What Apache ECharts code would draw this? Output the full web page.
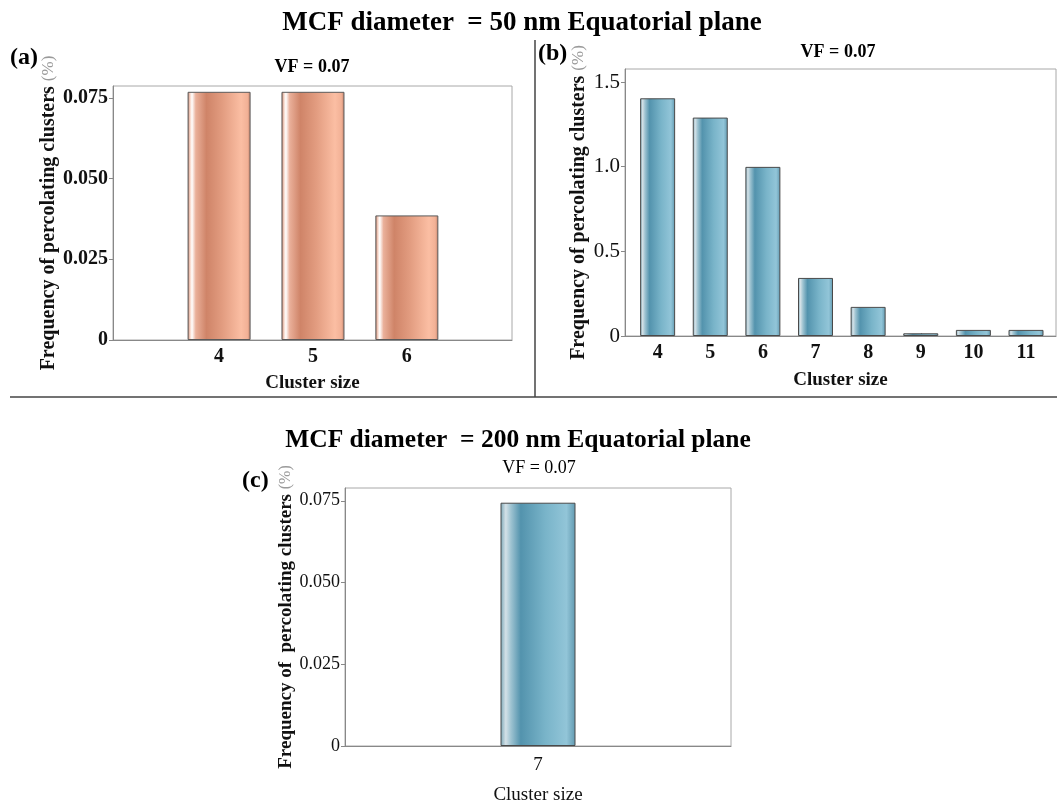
<!DOCTYPE html>
<html>
<head>
<meta charset="utf-8">
<script src="https://cdn.jsdelivr.net/npm/echarts@6/dist/echarts.min.js"></script>
<style>
  html, body { margin: 0; padding: 0; background: #fff; }
  #chart { width: 1057px; height: 806px; }
</style>
</head>
<body>
<div id="chart"></div>
<script>
// ---- data ----
const sizesA = [4, 5, 6];
const freqA = [0.0769, 0.0769, 0.0386];
const sizesB = [4, 5, 6, 7, 8, 9, 10, 11];
const freqB = [1.404, 1.290, 0.999, 0.343, 0.172, 0.016, 0.036, 0.036];
const sizesC = [7];
const freqC = [0.0744];
const yTicksA = [0, 0.025, 0.05, 0.075];
const yTicksB = [0, 0.5, 1.0, 1.5];
const yTicksC = [0, 0.025, 0.05, 0.075];
const titleTop = 'MCF diameter  = 50 nm Equatorial plane';
const titleBottom = 'MCF diameter  = 200 nm Equatorial plane';
const vfLabel = 'VF = 0.07';
const xName = 'Cluster size';
const yNameMain = 'Frequency of percolating clusters ';
const yNameMainC = 'Frequency of  percolating clusters ';
const yNameUnit = '(%)';

const SERIF = '"Liberation Serif", "DejaVu Serif", serif';

const copper = new echarts.graphic.LinearGradient(0, 0, 1, 0, [
  { offset: 0, color: '#c07860' },
  { offset: 0.04, color: '#f7d6c8' },
  { offset: 0.07, color: '#ffffff' },
  { offset: 0.13, color: '#eab09a' },
  { offset: 0.3, color: '#cf8468' },
  { offset: 0.55, color: '#e29c80' },
  { offset: 0.85, color: '#fbbea3' },
  { offset: 0.95, color: '#f2b196' },
  { offset: 1, color: '#c4846c' }
]);
const steel = new echarts.graphic.LinearGradient(0, 0, 1, 0, [
  { offset: 0, color: '#7aa6b6' },
  { offset: 0.07, color: '#d4e1e7' },
  { offset: 0.14, color: '#9ec3d1' },
  { offset: 0.27, color: '#5393ad' },
  { offset: 0.6, color: '#79b4c9' },
  { offset: 0.88, color: '#92c5d8' },
  { offset: 1, color: '#6199b0' }
]);

function pairs(xs, ys) { return xs.map((x, i) => [x, ys[i]]); }

function yAxisCfg(gi, min, max, ticks, fmt, bold, gap, size, nameText, nameSize) {
  return {
    type: 'value', gridIndex: gi, min: min, max: max,
    name: '{m|' + nameText + '}{u|' + yNameUnit + '}',
    nameLocation: 'middle', nameGap: gap,
    nameTextStyle: {
      rich: {
        m: { fontFamily: SERIF, fontWeight: 'bold', fontSize: nameSize, color: '#111' },
        u: { fontFamily: SERIF, fontWeight: 'normal', fontSize: nameSize - 3, color: '#9a9a9a' }
      }
    },
    axisLine: { show: true, lineStyle: { color: '#888', width: 1 } },
    axisTick: { show: true, length: 4, lineStyle: { color: '#888' }, customValues: ticks },
    axisLabel: {
      customValues: ticks, formatter: fmt, margin: 5,
      fontFamily: SERIF, fontSize: size, fontWeight: bold ? 'bold' : 'normal', color: '#111'
    },
    splitLine: { show: false }
  };
}

function xAxisCfg(gi, min, max, ticks, bold, gap, size, margin) {
  return {
    type: 'value', gridIndex: gi, min: min, max: max,
    name: xName, nameLocation: 'middle', nameGap: gap,
    nameTextStyle: { fontFamily: SERIF, fontSize: 19, fontWeight: bold ? 'bold' : 'normal', color: '#111' },
    axisLine: { show: true, lineStyle: { color: '#888', width: 1 } },
    axisTick: { show: true, inside: true, length: 3, lineStyle: { color: '#888' }, customValues: ticks },
    axisLabel: {
      customValues: ticks, margin: margin,
      fontFamily: SERIF, fontSize: size, fontWeight: bold ? 'bold' : 'normal', color: '#111'
    },
    splitLine: { show: false }
  };
}

const fmt3 = v => (v === 0 ? '0' : v.toFixed(3));
const fmt1 = v => (v === 0 ? '0' : v.toFixed(1));

function txt(text, x, y, size, weight, align, color) {
  return {
    type: 'text', x: x, y: y, silent: true,
    style: {
      text: text, fontFamily: SERIF, fontSize: size, fontWeight: weight,
      fill: color || '#000', textAlign: align || 'center', textVerticalAlign: 'middle'
    }
  };
}

const chart = echarts.init(document.getElementById('chart'), null, { renderer: 'canvas' });
chart.setOption({
  backgroundColor: '#fff',
  animation: false,
  grid: [
    { left: 113, top: 86, width: 399, height: 254, show: true, borderColor: '#a8a8a8', borderWidth: 1, backgroundColor: 'transparent' },
    { left: 625, top: 69, width: 431, height: 267, show: true, borderColor: '#a8a8a8', borderWidth: 1, backgroundColor: 'transparent' },
    { left: 345, top: 488, width: 386, height: 264, show: true, borderColor: '#a8a8a8', borderWidth: 1, backgroundColor: 'transparent' }
  ],
  xAxis: [
    xAxisCfg(0, 2.87, 7.12, sizesA, true, 34, 20, 7),
    xAxisCfg(1, 3.38, 11.57, sizesB, true, 35, 20, 7),
    xAxisCfg(2, 6, 8, sizesC, false, 40, 19, 10)
  ],
  yAxis: [
    yAxisCfg(0, 0, 0.0787, yTicksA, fmt3, true, 54, 20, yNameMain, 20),
    yAxisCfg(1, 0, 1.577, yTicksB, fmt1, false, 36, 21, yNameMain, 20),
    yAxisCfg(2, 0, 0.0789, yTicksC, fmt3, false, 49, 18, yNameMainC, 19)
  ],
  series: [
    { type: 'bar', xAxisIndex: 0, yAxisIndex: 0, data: pairs(sizesA, freqA), barWidth: 63,
      itemStyle: { color: copper, borderColor: '#5a5a5a', borderWidth: 1 } },
    { type: 'bar', xAxisIndex: 1, yAxisIndex: 1, data: pairs(sizesB, freqB), barWidth: 35,
      itemStyle: { color: steel, borderColor: '#4a4a4a', borderWidth: 1 } },
    { type: 'bar', xAxisIndex: 2, yAxisIndex: 2, data: pairs(sizesC, freqC), barWidth: 75,
      itemStyle: { color: steel, borderColor: '#4a4a4a', borderWidth: 1 } }
  ],
  graphic: [
    txt(titleTop, 522, 23, 27, 'bold'),
    txt(titleBottom, 518, 440, 25.5, 'bold'),
    txt('(a)', 10, 58, 24, 'bold', 'left'),
    txt('(b)', 538, 54, 24, 'bold', 'left'),
    txt('(c)', 242, 481, 24, 'bold', 'left'),
    txt(vfLabel, 312, 67, 18, 'bold'),
    txt(vfLabel, 838, 52, 18, 'bold'),
    txt(vfLabel, 539, 468, 18, 'normal'),
    { type: 'line', silent: true, shape: { x1: 535, y1: 40, x2: 535, y2: 397 }, style: { stroke: '#444', lineWidth: 1.5 } },
    { type: 'line', silent: true, shape: { x1: 10, y1: 397, x2: 1057, y2: 397 }, style: { stroke: '#444', lineWidth: 1.5 } }
  ]
});
</script>
</body>
</html>
